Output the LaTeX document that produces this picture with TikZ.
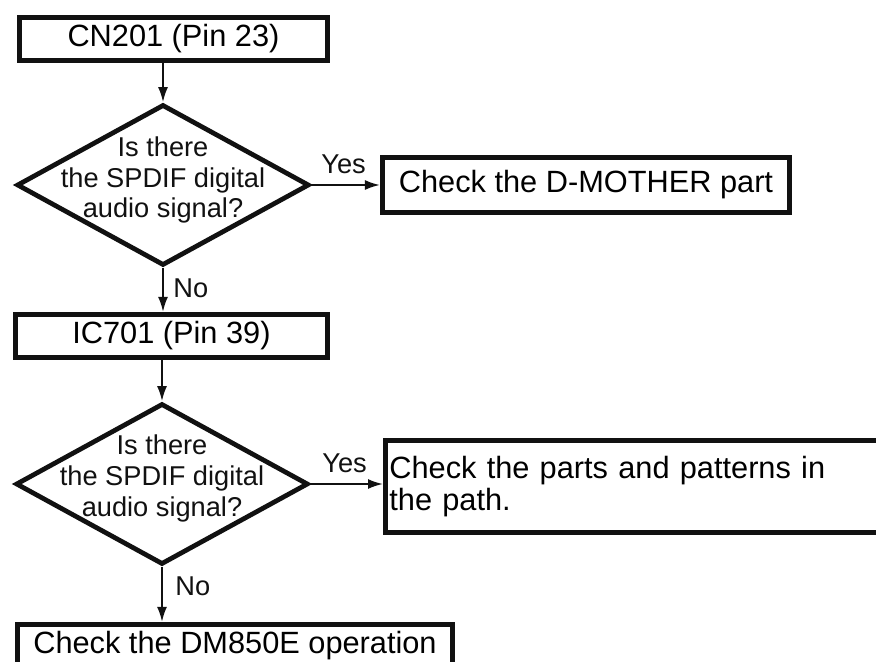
\documentclass[tikz,border=0pt]{standalone}
\usepackage{fontspec}
\setmainfont{Liberation Sans}
\usepackage{xcolor}
\definecolor{inkblack}{HTML}{111111}
\usetikzlibrary{arrows.meta,positioning,shapes.geometric,calc}
\newcommand\boxfont{\fontsize{17.5}{18.7}\selectfont}
\newcommand\askfont{\fontsize{15.5}{17.4}\selectfont}

\begin{document}
\begin{tikzpicture}[
  x=0.02cm, y=-0.02cm,
  box/.style={rectangle, draw=inkblack, line width=0.095cm, inner sep=0.08cm,
              font=\boxfont, minimum height=0.87cm},
  ask/.style={diamond, draw=inkblack, line width=0.095cm, inner sep=0pt,
              minimum width=5.85cm, minimum height=3.22cm},
  asktxt/.style={font=\askfont, align=center, inner sep=0pt, text=inkblack},
  ans/.style={font=\askfont, inner sep=0pt, text=inkblack},
  flow/.style={-{Latex[length=3mm,width=2mm]}, line width=1.1pt, inkblack},
]
\useasboundingbox (0,0) rectangle (876,662);

% ================= first test point
\node[box, minimum width=6.17cm] (b1) at (173.5,39) {CN201 (Pin 23)};
\node[ask] (d1) at (163,185) {};
\node[asktxt] (q1) at ([yshift=0.1cm]d1.center)
  {Is there\\the SPDIF digital\\audio signal?};
\node[box, minimum width=8.15cm, minimum height=1.11cm] (b2) at (586,185)
  {Check the D-MOTHER part};

\draw[flow] (b1.south -| d1.north) -- (d1.north);
\draw[flow] (d1.east) -- (b2.west);
\node[ans, anchor=base west] (yes1) at (321,174) {Yes};

% ================= second test point
\node[box, minimum width=6.25cm] (b3) at (171.5,336) {IC701 (Pin 39)};
\draw[flow] (d1.south) -- (d1.south |- b3.north);
\node[ans, anchor=base west] (no1) at (173,297) {No};

\node[ask] (d2) at (162,484) {};
\node[asktxt] (q2) at ([yshift=0.11cm]d2.center)
  {Is there\\the SPDIF digital\\audio signal?};
\node[box, anchor=north west, text width=10.3cm, align=left,
      minimum height=1.85cm] (b4) at (383,438)
  {Check the parts and patterns in\\the path.};

\draw[flow] (b3.south -| d2.north) -- (d2.north);
\draw[flow] (d2.east) -- (d2.east -| b4.west);
\node[ans, anchor=base west] (yes2) at (322,472) {Yes};

% ================= last step
\node[box, minimum width=8.71cm] (b5) at (235,646) {Check the DM850E operation};
\draw[flow] (d2.south) -- (d2.south |- b5.north);
\node[ans, anchor=base west] (no2) at (175,595) {No};
\end{tikzpicture}
\end{document}
